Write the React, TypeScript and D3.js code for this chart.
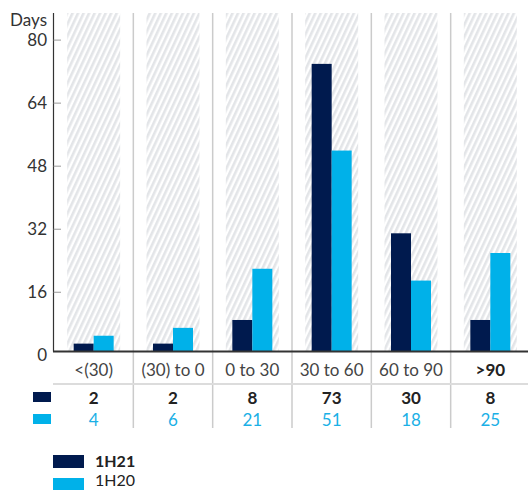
import React from "react";
import * as d3 from "d3";

const categories = ["<(30)", "(30) to 0", "0 to 30", "30 to 60", "60 to 90", ">90"];
const boldCategory = ">90";
const series = ["1H21", "1H20"];
const values1H21 = [2, 2, 8, 73, 30, 8];
const values1H20 = [4, 6, 21, 51, 18, 25];
const yTicks = [0, 16, 32, 48, 64, 80];
const colors = ["#001a4e", "#00b1e9"];

const W = 528;
const H = 490;
const FONT = "Lato, 'Open Sans', sans-serif";

export default function App() {
  const x = d3.scaleBand<string>().domain(categories).range([54, 530]).padding(0);
  const inner = d3.scaleBand<string>().domain(series).range([0, 40]).padding(0);
  const y = d3.scaleLinear().domain([0, 80]).range([351.5, 36.3]);
  const tickOffset = 3.8;
  const plotTop = 13;
  const data = [values1H21, values1H20];
  const bw = x.bandwidth();

  return (
    <svg width={W} height={H} style={{ position: "absolute", left: 0, top: 0 }} fontFamily={FONT}>
      <defs>
        <pattern id="hatch" width="5" height="10" patternUnits="userSpaceOnUse" patternTransform="rotate(25)">
          <rect width="5" height="10" fill="#ffffff" />
          <rect width="2.6" height="10" fill="#e3e5e8" />
        </pattern>
      </defs>
      {categories.map((c) => {
        const cx = (x(c) as number) + bw / 2;
        return (
          <rect key={"h" + c} x={cx - 26.5} y={plotTop} width={53} height={y(0) - plotTop} fill="url(#hatch)" />
        );
      })}
      {categories.slice(1).map((c) => (
        <line key={"s" + c} x1={x(c) as number} x2={x(c) as number} y1={plotTop} y2={428} stroke="#cbcbcb" strokeWidth={1.5} />
      ))}
      {categories.map((c, i) => {
        const cx = (x(c) as number) + bw / 2;
        return series.map((s, j) => (
          <rect
            key={c + s}
            x={cx - 20 + (inner(s) as number)}
            y={y(data[j][i])}
            width={inner.bandwidth()}
            height={y(0) - y(data[j][i])}
            fill={colors[j]}
          />
        ));
      })}
      <line x1={53.5} x2={53.5} y1={plotTop} y2={y(0)} stroke="#333" strokeWidth={1.2} />
      {yTicks.filter((t) => t > 0).map((t) => (
        <line key={"t" + t} x1={53.5} x2={61} y1={y(t) + tickOffset} y2={y(t) + tickOffset} stroke="#999" strokeWidth={1} />
      ))}
      {yTicks.map((t) => (
        <text key={"tl" + t} x={47} y={y(t) + tickOffset} dy="0.35em" textAnchor="end" fontSize={17} fill="#333">
          {t}
        </text>
      ))}
      <text x={47} y={20} dy="0.35em" textAnchor="end" fontSize={17} fill="#333">Days</text>
      <line x1={53} x2={W} y1={y(0)} y2={y(0)} stroke="#333" strokeWidth={2} />
      {categories.map((c) => (
        <text
          key={"c" + c}
          x={(x(c) as number) + bw / 2}
          y={370}
          dy="0.35em"
          textAnchor="middle"
          fontSize={17}
          fontWeight={c === boldCategory ? 700 : 400}
          fill={c === boldCategory ? "#222" : "#444"}
        >
          {c}
        </text>
      ))}
      <line x1={53} x2={W} y1={384} y2={384} stroke="#dcdcdc" strokeWidth={2} />
      {categories.map((c, i) => (
        <g key={"v" + c}>
          <text x={(x(c) as number) + bw / 2} y={398} dy="0.35em" textAnchor="middle" fontSize={17} fontWeight={700} fill="#222">
            {values1H21[i]}
          </text>
          <text x={(x(c) as number) + bw / 2} y={420} dy="0.35em" textAnchor="middle" fontSize={17} fontWeight={400} fill="#1ab0e6">
            {values1H20[i]}
          </text>
        </g>
      ))}
      <rect x={33} y={392} width={18} height={10} fill={colors[0]} />
      <rect x={33} y={414} width={18} height={10} fill={colors[1]} />
      {series.map((s, j) => (
        <g key={"lg" + s}>
          <rect x={53} y={455 + j * 23} width={31} height={13} fill={colors[j]} />
          <text x={95} y={461.5 + j * 19} dy="0.35em" fontSize={16} fontWeight={j === 0 ? 700 : 400} fill="#222">
            {s}
          </text>
        </g>
      ))}
    </svg>
  );
}
